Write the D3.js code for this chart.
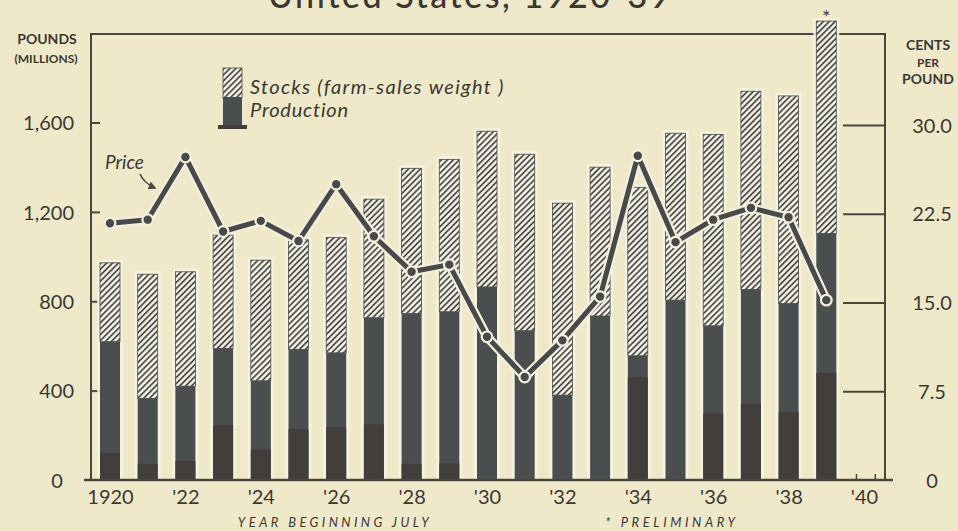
<!DOCTYPE html>
<html>
<head>
<meta charset="utf-8">
<script src="https://cdn.jsdelivr.net/npm/d3@7"></script>
<style>
  html, body { margin: 0; padding: 0; background: #efe9ca; }
  svg { display: block; }
  text { font-family: Lato, "DejaVu Sans", sans-serif; fill: #3b3833; }
</style>
</head>
<body>
<svg id="chart" width="958" height="531"></svg>
<script>
// ---------------- DATA ----------------
const years = [1920,1921,1922,1923,1924,1925,1926,1927,1928,1929,1930,1931,1932,1933,1934,1935,1936,1937,1938,1939];
// Production (millions of pounds)
const production = [619,365,420,589,444,584,569,726,745,753,864,668,380,734,556,805,690,853,790,1103];
// Stocks (farm-sales weight), stacked on production
const stocks = [353,556,512,507,540,491,517,531,650,682,697,790,859,666,754,747,857,887,929,951];
// darker lower part of the production column as printed
const productionBase = [122,72,85,246,137,227,236,249,72,74,0,0,0,0,460,0,298,340,305,480];
// Price, cents per pound
const price = [21.7,22.0,27.3,21.0,21.9,20.2,25.0,20.6,17.6,18.2,12.1,8.7,11.8,15.5,27.4,20.1,22.0,23.0,22.2,15.2];

const leftTicks = [0,400,800,1200,1600];
const rightTicks = [0,7.5,15,22.5,30];
const xTickYears = [1920,1922,1924,1926,1928,1930,1932,1934,1936,1938,1940];
const xTickLabels = ["1920","'22","'24","'26","'28","'30","'32","'34","'36","'38","'40"];
const minorTicks = [1939.8,1940.3];

const title = "United States, 1920-39";
const legendStocks = "Stocks (farm-sales weight )";
const legendProduction = "Production";

// ---------------- LAYOUT ----------------
const ink = "#48463f";
const darkBar = "#4b4e4f";
const darkBase = "#423e3b";
const bg = "#efe9ca";
const halo = "#f6f3e3";

const svg = d3.select("#chart");
svg.append("rect").attr("width",958).attr("height",531).attr("fill",bg);

const frame = {left: 91, right: 885, top: 34, bottom: 480};
const x = d3.scaleLinear().domain([1920,1940]).range([110, 864]);
const yL = d3.scaleLinear().domain([0,1600]).range([frame.bottom, 122.5]);
const yR = d3.scaleLinear().domain([0,30]).range([frame.bottom, 125]);
const barW = 20;

// hatch pattern
const defs = svg.append("defs");
const pat = defs.append("pattern").attr("id","hatch").attr("patternUnits","userSpaceOnUse")
  .attr("width",4.2).attr("height",4.2).attr("patternTransform","rotate(45)");
pat.append("rect").attr("width",4.2).attr("height",4.2).attr("fill","#f8f6ea");
pat.append("line").attr("x1",1).attr("x2",1).attr("y1",0).attr("y2",4.2)
  .attr("stroke","#43433f").attr("stroke-width",1.7);

const marker = defs.append("marker").attr("id","arrow").attr("viewBox","0 0 10 10")
  .attr("refX",8).attr("refY",5).attr("markerWidth",5).attr("markerHeight",5).attr("orient","auto");
marker.append("path").attr("d","M0,0 L10,5 L0,10 z").attr("fill",ink);

// Title (cut at top like the reference)
svg.append("text").attr("x",470).attr("y",8).attr("text-anchor","middle")
  .attr("font-size",34).attr("font-weight",500).attr("letter-spacing",2.5).text(title);

// Frame
const fg = svg.append("g").attr("stroke",ink).attr("fill","none");
fg.append("line").attr("x1",frame.left).attr("x2",frame.right).attr("y1",frame.top).attr("y2",frame.top).attr("stroke-width",1.8);
fg.append("line").attr("x1",frame.left).attr("x2",frame.left).attr("y1",frame.top-1).attr("y2",frame.bottom).attr("stroke-width",2);
fg.append("line").attr("x1",frame.right).attr("x2",frame.right).attr("y1",frame.top-1).attr("y2",frame.bottom).attr("stroke-width",2);

// Left axis
const gl = svg.append("g").attr("transform",`translate(${frame.left},0)`)
  .call(d3.axisLeft(yL).tickValues(leftTicks).tickSize(-9).tickPadding(17)
    .tickFormat(d => d3.format(",")(d)));
gl.select(".domain").remove();
gl.selectAll(".tick line").attr("stroke",ink).attr("stroke-width",2);
gl.selectAll(".tick text").attr("font-size",20).attr("fill","#3b3833")
  .style("font-family","Lato, 'DejaVu Sans', sans-serif").attr("dy","0.36em");
gl.selectAll(".tick").filter(d => d === 0).select("text").attr("text-anchor","middle").attr("x",-34);
gl.selectAll(".tick").filter(d => d === 0).select("line").remove();

// Right axis
const gr = svg.append("g").attr("transform",`translate(${frame.right},0)`)
  .call(d3.axisRight(yR).tickValues(rightTicks).tickSize(-42).tickPadding(47)
    .tickFormat(d => d === 0 ? "0" : d3.format(".1f")(d)));
gr.select(".domain").remove();
gr.selectAll(".tick line").attr("stroke",ink).attr("stroke-width",2);
gr.selectAll(".tick").filter(d => d === 0).select("line").remove();
gr.selectAll(".tick text").attr("font-size",20).attr("text-anchor","middle").attr("fill","#3b3833")
  .style("font-family","Lato, 'DejaVu Sans', sans-serif").attr("dy","0.36em");

// Axis titles
svg.append("text").attr("x",47).attr("y",44).attr("text-anchor","middle").attr("font-size",14).attr("font-weight",700).text("POUNDS");
svg.append("text").attr("x",46).attr("y",63).attr("text-anchor","middle").attr("font-size",12).attr("font-weight",700).text("(MILLIONS)");
const rt = ["CENTS","PER","POUND"];
svg.selectAll(".rtitle").data(rt).enter().append("text")
  .attr("x",928).attr("y",(d,i)=>50 + i*17).attr("text-anchor","middle")
  .attr("font-size",(d,i)=> i===1 ? 12 : 14).attr("font-weight",700).text(d=>d);

// Bars
const data = years.map((yr,i)=>({year:yr, prod:production[i], stock:stocks[i], base:productionBase[i], price:price[i]}));
const bars = svg.append("g");
bars.selectAll(".halo").data(data).enter().append("rect")
  .attr("x",d=>x(d.year)-barW/2-3).attr("y",d=>yL(d.prod+d.stock)-3)
  .attr("width",barW+6).attr("height",d=>frame.bottom-yL(d.prod+d.stock)+3)
  .attr("fill",halo).attr("opacity",0.85);
bars.selectAll(".stock").data(data).enter().append("rect")
  .attr("x",d=>x(d.year)-barW/2).attr("y",d=>yL(d.prod+d.stock))
  .attr("width",barW).attr("height",d=>yL(d.prod)-yL(d.prod+d.stock))
  .attr("fill","url(#hatch)").attr("stroke","#4a4a47").attr("stroke-width",0.8);
bars.selectAll(".prod").data(data).enter().append("rect")
  .attr("x",d=>x(d.year)-barW/2).attr("y",d=>yL(d.prod))
  .attr("width",barW).attr("height",d=>frame.bottom-yL(d.prod))
  .attr("fill",darkBar);
bars.selectAll(".base").data(data.filter(d=>d.base>0)).enter().append("rect")
  .attr("x",d=>x(d.year)-barW/2).attr("y",d=>yL(d.base))
  .attr("width",barW).attr("height",d=>frame.bottom-yL(d.base))
  .attr("fill",darkBase);

// asterisk on preliminary year
svg.append("text").attr("x",x(1939)).attr("y",yL(data[19].prod+data[19].stock)+3)
  .attr("text-anchor","middle").attr("font-size",20).text("*");

// Bottom axis
const gx = svg.append("g").attr("transform",`translate(0,${frame.bottom})`)
  .call(d3.axisBottom(x).tickValues(xTickYears).tickSize(0).tickPadding(10)
    .tickFormat((d,i)=>xTickLabels[i]));
gx.select(".domain").remove();
gx.selectAll(".tick text").attr("font-size",20).attr("fill","#3b3833")
  .style("font-family","Lato, 'DejaVu Sans', sans-serif");
svg.append("line").attr("x1",84).attr("x2",893).attr("y1",frame.bottom).attr("y2",frame.bottom)
  .attr("stroke",ink).attr("stroke-width",2.6);
svg.selectAll(".minor").data(minorTicks).enter().append("line")
  .attr("x1",d=>x(d)).attr("x2",d=>x(d)).attr("y1",frame.bottom).attr("y2",frame.bottom-6)
  .attr("stroke",ink).attr("stroke-width",1.5);

svg.append("text").attr("x",335).attr("y",527).attr("text-anchor","middle").attr("font-size",13)
  .attr("font-style","italic").attr("letter-spacing",3.4).text("YEAR BEGINNING JULY");
svg.append("text").attr("x",672).attr("y",527).attr("text-anchor","middle").attr("font-size",13)
  .attr("font-style","italic").attr("letter-spacing",3.6).text("* PRELIMINARY");

// Price line
const line = d3.line().x(d=>x(d.year)).y(d=>yR(d.price));
svg.append("path").datum(data).attr("d",line).attr("fill","none")
  .attr("stroke","#f3efdc").attr("stroke-width",9.5).attr("stroke-linejoin","round");
svg.append("path").datum(data).attr("d",line).attr("fill","none")
  .attr("stroke","#48494a").attr("stroke-width",5).attr("stroke-linejoin","round");
svg.selectAll(".dot").data(data).enter().append("circle")
  .attr("cx",d=>x(d.year)).attr("cy",d=>yR(d.price)).attr("r",5.3)
  .attr("fill","#48494a").attr("stroke","#f3efdc").attr("stroke-width",2.2);

// Price label + arrow
svg.append("text").attr("x",105).attr("y",169).attr("font-size",19).attr("font-style","italic").text("Price");
svg.append("path").attr("d","M140,174 Q144,183 155,188").attr("fill","none")
  .attr("stroke",ink).attr("stroke-width",1.6).attr("marker-end","url(#arrow)");

// Legend
const lg = svg.append("g");
lg.append("rect").attr("x",223).attr("y",68).attr("width",19).attr("height",30).attr("fill","url(#hatch)")
  .attr("stroke","#4a4a47").attr("stroke-width",0.8);
lg.append("rect").attr("x",223).attr("y",97).attr("width",19).attr("height",29).attr("fill",darkBar);
lg.append("rect").attr("x",218).attr("y",125).attr("width",29).attr("height",4).attr("fill",darkBase);
lg.append("text").attr("x",250).attr("y",94).attr("font-size",20).attr("font-style","italic")
  .attr("letter-spacing",1.3).text(legendStocks);
lg.append("text").attr("x",250).attr("y",117).attr("font-size",20).attr("font-style","italic")
  .attr("letter-spacing",0.8).text(legendProduction);
</script>
</body>
</html>
